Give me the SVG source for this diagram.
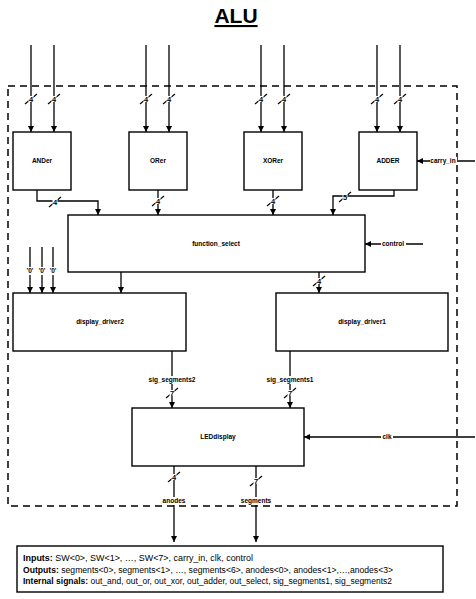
<svg xmlns="http://www.w3.org/2000/svg" width="476" height="599" viewBox="0 0 476 599">
<style>
.box{fill:#fff;stroke:#000;stroke-width:1.4}
.w{fill:none;stroke:#000;stroke-width:1.3}
.sl{stroke:#000;stroke-width:1.1}
.bg{fill:#fff}
.lbl{font-family:"Liberation Sans",Arial,sans-serif;font-size:6.5px;font-weight:bold;text-anchor:middle;fill:#000}
.sig{font-family:"Liberation Sans",Arial,sans-serif;font-size:6.5px;font-weight:bold;text-anchor:middle;fill:#000}
.num{font-family:"Liberation Sans",Arial,sans-serif;font-size:7.5px;font-weight:bold;text-anchor:middle;fill:#000}
.leg{font-family:"Liberation Sans",Arial,sans-serif;font-size:8.5px;fill:#000}
</style>
<defs>
<marker id="ah" markerUnits="userSpaceOnUse" markerWidth="8" markerHeight="8" refX="6" refY="3" orient="auto">
<path d="M0,0 L6,3 L0,6 Z" fill="#000"/>
</marker>
</defs>
<rect width="476" height="599" fill="#fff"/>
<text x="236" y="23" font-family="Liberation Sans,Arial,sans-serif" font-size="21" font-weight="bold" text-anchor="middle" text-decoration="underline">ALU</text>
<rect x="8" y="86" width="449" height="420" fill="none" stroke="#000" stroke-width="1.5" stroke-dasharray="7,5"/>
<g id="connectors">
<g class="w" marker-end="url(#ah)">
<path d="M31,45V132"/><path d="M54,45V132"/>
<path d="M146,45V132"/><path d="M169,45V132"/>
<path d="M261,45V132"/><path d="M284,45V132"/>
<path d="M377,45V132"/><path d="M400,45V132"/>
<path d="M475,161H417"/>
<path d="M37,190V201H98V215"/>
<path d="M158,190V215"/>
<path d="M273,190V215"/>
<path d="M394,190V196H333V215"/>
<path d="M423,244H365"/>
<path d="M30,247V293"/><path d="M42,247V293"/><path d="M53,247V293"/>
<path d="M121,272V293"/>
<path d="M319,272V293"/>
<path d="M172,351V408"/>
<path d="M290,351V408"/>
<path d="M475,437H304"/>
<path d="M174,466V542"/>
<path d="M256,466V542"/>
</g>
<g class="bg">
<rect x="430" y="157" width="27" height="8"/>
<rect x="381" y="240" width="25" height="8"/>
<rect x="26" y="267" width="8" height="8"/><rect x="38" y="267" width="8" height="8"/><rect x="49" y="267" width="8" height="8"/>
<rect x="148" y="376" width="48" height="8"/>
<rect x="266" y="376" width="48" height="8"/>
<rect x="381" y="433" width="12" height="8"/>
<rect x="161" y="497" width="26" height="8"/>
<rect x="240" y="497" width="32" height="8"/>
</g>
<g class="sl">
<line x1="25" y1="104" x2="37" y2="94"/><line x1="48" y1="104" x2="60" y2="94"/>
<line x1="140" y1="104" x2="152" y2="94"/><line x1="163" y1="104" x2="175" y2="94"/>
<line x1="255" y1="104" x2="267" y2="94"/><line x1="278" y1="104" x2="290" y2="94"/>
<line x1="371" y1="104" x2="383" y2="94"/><line x1="394" y1="104" x2="406" y2="94"/>
<line x1="49" y1="207" x2="61" y2="197"/>
<line x1="152" y1="206" x2="164" y2="196"/>
<line x1="267" y1="206" x2="279" y2="196"/>
<line x1="339" y1="202" x2="351" y2="192"/>
<line x1="313" y1="286" x2="325" y2="276"/>
<line x1="166" y1="398" x2="178" y2="388"/>
<line x1="284" y1="398" x2="296" y2="388"/>
<line x1="168" y1="482" x2="180" y2="472"/>
<line x1="250" y1="486" x2="262" y2="476"/>
</g>
<g class="bg">
<rect x="28.5" y="96" width="5" height="6"/><rect x="51.5" y="96" width="5" height="6"/>
<rect x="143.5" y="96" width="5" height="6"/><rect x="166.5" y="96" width="5" height="6"/>
<rect x="258.5" y="96" width="5" height="6"/><rect x="281.5" y="96" width="5" height="6"/>
<rect x="374.5" y="96" width="5" height="6"/><rect x="397.5" y="96" width="5" height="6"/>
<rect x="52.5" y="199" width="5" height="6"/>
<rect x="155.5" y="198" width="5" height="6"/>
<rect x="270.5" y="198" width="5" height="6"/>
<rect x="342.5" y="194" width="5" height="6"/>
<rect x="316.5" y="278" width="5" height="6"/>
<rect x="169.5" y="390" width="5" height="6"/>
<rect x="287.5" y="390" width="5" height="6"/>
<rect x="171.5" y="474" width="5" height="6"/>
<rect x="253.5" y="478" width="5" height="6"/>
</g>
<g class="num">
<text x="31" y="102">4</text><text x="54" y="102">4</text>
<text x="146" y="102">4</text><text x="169" y="102">4</text>
<text x="261" y="102">4</text><text x="284" y="102">4</text>
<text x="377" y="102">4</text><text x="400" y="102">4</text>
<text x="55" y="205">4</text>
<text x="158" y="204">4</text>
<text x="273" y="204">4</text>
<text x="345" y="200">5</text>
<text x="319" y="284">4</text>
<text x="172" y="396">7</text>
<text x="290" y="396">7</text>
<text x="174" y="480">4</text>
<text x="256" y="484">7</text>
</g>
<g class="sig">
<text x="443" y="163">carry_in</text>
<text x="393" y="246">control</text>
<text x="30" y="273">'0'</text><text x="42" y="273">'0'</text><text x="53" y="273">'0'</text>
<text x="172" y="382">sig_segments2</text>
<text x="290" y="382">sig_segments1</text>
<text x="387" y="439">clk</text>
<text x="174" y="503">anodes</text>
<text x="256" y="503">segments</text>
</g>
</g>
<g id="ANDer"><rect class="box" x="13" y="132" width="58" height="58"/><text class="lbl" x="42" y="163">ANDer</text></g>
<g id="ORer"><rect class="box" x="129" y="132" width="58" height="58"/><text class="lbl" x="158" y="163">ORer</text></g>
<g id="XORer"><rect class="box" x="244" y="132" width="58" height="58"/><text class="lbl" x="273" y="163">XORer</text></g>
<g id="ADDER"><rect class="box" x="359" y="132" width="58" height="58"/><text class="lbl" x="388" y="163">ADDER</text></g>
<g id="function_select"><rect class="box" x="68" y="215" width="297" height="57"/><text class="lbl" x="216" y="246">function_select</text></g>
<g id="display_driver2"><rect class="box" x="13" y="293" width="173" height="58"/><text class="lbl" x="100" y="324">display_driver2</text></g>
<g id="display_driver1"><rect class="box" x="276" y="293" width="172" height="58"/><text class="lbl" x="362" y="324">display_driver1</text></g>
<g id="LEDdisplay"><rect class="box" x="132" y="408" width="172" height="58"/><text class="lbl" x="218" y="439">LEDdisplay</text></g>
<g id="legend">
<rect class="box" x="17" y="546" width="426" height="46"/>
<text class="leg" x="23" y="561" textLength="230" lengthAdjust="spacingAndGlyphs"><tspan font-weight="bold">Inputs:</tspan> SW&lt;0&gt;, SW&lt;1&gt;, …, SW&lt;7&gt;, carry_in, clk, control</text>
<text class="leg" x="23" y="573" textLength="370" lengthAdjust="spacingAndGlyphs"><tspan font-weight="bold">Outputs:</tspan> segments&lt;0&gt;, segments&lt;1&gt;, …, segments&lt;6&gt;, anodes&lt;0&gt;, anodes&lt;1&gt;,…,anodes&lt;3&gt;</text>
<text class="leg" x="23" y="584" textLength="369" lengthAdjust="spacingAndGlyphs"><tspan font-weight="bold">Internal signals:</tspan> out_and, out_or, out_xor, out_adder, out_select, sig_segments1, sig_segments2</text>
</g>
</svg>
